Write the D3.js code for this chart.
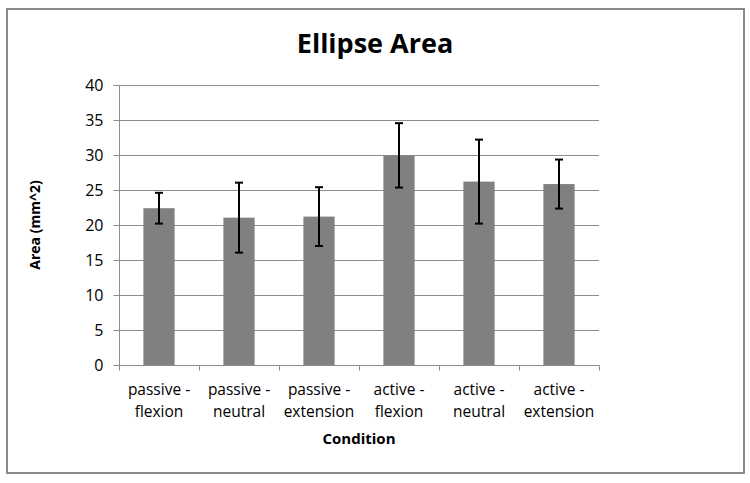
<!DOCTYPE html>
<html>
<head>
<meta charset="utf-8">
<script src="https://cdn.jsdelivr.net/npm/d3@7"></script>
<style>
  html, body { margin: 0; padding: 0; background: #fff; }
  svg { display: block; }
</style>
</head>
<body>
<svg id="chart" width="750" height="483"></svg>
<script>
const categories = [
  ["passive -", "flexion"],
  ["passive -", "neutral"],
  ["passive -", "extension"],
  ["active -", "flexion"],
  ["active -", "neutral"],
  ["active -", "extension"]
];
const values = [22.4, 21.05, 21.2, 29.95, 26.2, 25.85];
const errors = [2.2, 5.0, 4.2, 4.6, 6.0, 3.5];
const yTicks = [0, 5, 10, 15, 20, 25, 30, 35, 40];
const title = "Ellipse Area";
const xTitle = "Condition";
const yTitle = "Area (mm^2)";

const svg = d3.select("#chart");
const font = "'Open Sans', 'Liberation Sans', sans-serif";

// outer border
svg.append("rect")
  .attr("x", 7).attr("y", 9).attr("width", 737).attr("height", 464)
  .attr("fill", "#fff").attr("stroke", "#8a8a8a").attr("stroke-width", 2);

const plot = { left: 119, right: 599, top: 85, bottom: 365 };

const x = d3.scaleBand()
  .domain(d3.range(categories.length))
  .range([plot.left, plot.right])
  .paddingInner(0.61).paddingOuter(0.305);
const xb = d3.scaleBand()
  .domain(d3.range(categories.length))
  .range([plot.left, plot.right]);
const y = d3.scaleLinear().domain([0, 40]).range([plot.bottom, plot.top]);

// gridlines
svg.append("g")
  .selectAll("line")
  .data(yTicks.filter(d => d > 0))
  .join("line")
  .attr("x1", plot.left).attr("x2", plot.right)
  .attr("y1", d => Math.round(y(d)) + 0.5).attr("y2", d => Math.round(y(d)) + 0.5)
  .attr("stroke", "#8c8c8c").attr("stroke-width", 1);

// bars
svg.append("g")
  .selectAll("rect")
  .data(values)
  .join("rect")
  .attr("x", (d, i) => x(i))
  .attr("width", x.bandwidth())
  .attr("y", d => y(d))
  .attr("height", d => y(0) - y(d))
  .attr("fill", "#808080");

// error bars
const eb = svg.append("g").attr("stroke", "#000").attr("stroke-width", 2);
values.forEach((v, i) => {
  const cx = x(i) + x.bandwidth() / 2;
  const hi = y(v + errors[i]), lo = y(v - errors[i]);
  eb.append("line").attr("x1", cx).attr("x2", cx).attr("y1", hi).attr("y2", lo);
  eb.append("line").attr("x1", cx - 4).attr("x2", cx + 4).attr("y1", hi).attr("y2", hi);
  eb.append("line").attr("x1", cx - 4).attr("x2", cx + 4).attr("y1", lo).attr("y2", lo);
});

// y axis
const yAxis = svg.append("g")
  .attr("transform", `translate(${plot.left + 0.5},0)`)
  .call(d3.axisLeft(y).tickValues(yTicks).tickSize(6).tickPadding(10).tickFormat(d3.format("d")));
yAxis.select(".domain").attr("stroke", "#8c8c8c").attr("d", `M-6,${plot.top + 0.5}H0V${plot.bottom + 0.5}`);
yAxis.selectAll(".tick line").attr("stroke", "#8c8c8c");
yAxis.selectAll(".tick text").attr("font-family", font).attr("font-size", 16).attr("fill", "#000");

// x axis
const xAxisG = svg.append("g").attr("transform", `translate(0,${plot.bottom + 0.5})`);
xAxisG.append("line").attr("x1", plot.left).attr("x2", plot.right)
  .attr("stroke", "#8c8c8c");
xAxisG.selectAll("line.tk")
  .data(d3.range(categories.length + 1))
  .join("line").attr("class", "tk")
  .attr("x1", i => Math.round(plot.left + i * xb.bandwidth()) + 0.5)
  .attr("x2", i => Math.round(plot.left + i * xb.bandwidth()) + 0.5)
  .attr("y1", 0).attr("y2", 5)
  .attr("stroke", "#8c8c8c");

const lbl = svg.append("g")
  .attr("font-family", font).attr("font-size", 15.5).attr("fill", "#000")
  .attr("text-anchor", "middle");
categories.forEach((c, i) => {
  const cx = xb(i) + xb.bandwidth() / 2;
  lbl.append("text").attr("x", cx).attr("y", 395).text(c[0]);
  lbl.append("text").attr("x", cx).attr("y", 417).text(c[1]);
});

// titles
svg.append("text")
  .attr("x", 375).attr("y", 53)
  .attr("text-anchor", "middle")
  .attr("font-family", font).attr("font-weight", "bold").attr("font-size", 27)
  .text(title);

svg.append("text")
  .attr("x", (plot.left + plot.right) / 2).attr("y", 444)
  .attr("text-anchor", "middle")
  .attr("font-family", font).attr("font-weight", "bold").attr("font-size", 15)
  .text(xTitle);

svg.append("text")
  .attr("transform", `translate(40,${(plot.top + plot.bottom) / 2}) rotate(-90)`)
  .attr("text-anchor", "middle")
  .attr("font-family", font).attr("font-weight", "bold").attr("font-size", 14)
  .text(yTitle);
</script>
</body>
</html>
